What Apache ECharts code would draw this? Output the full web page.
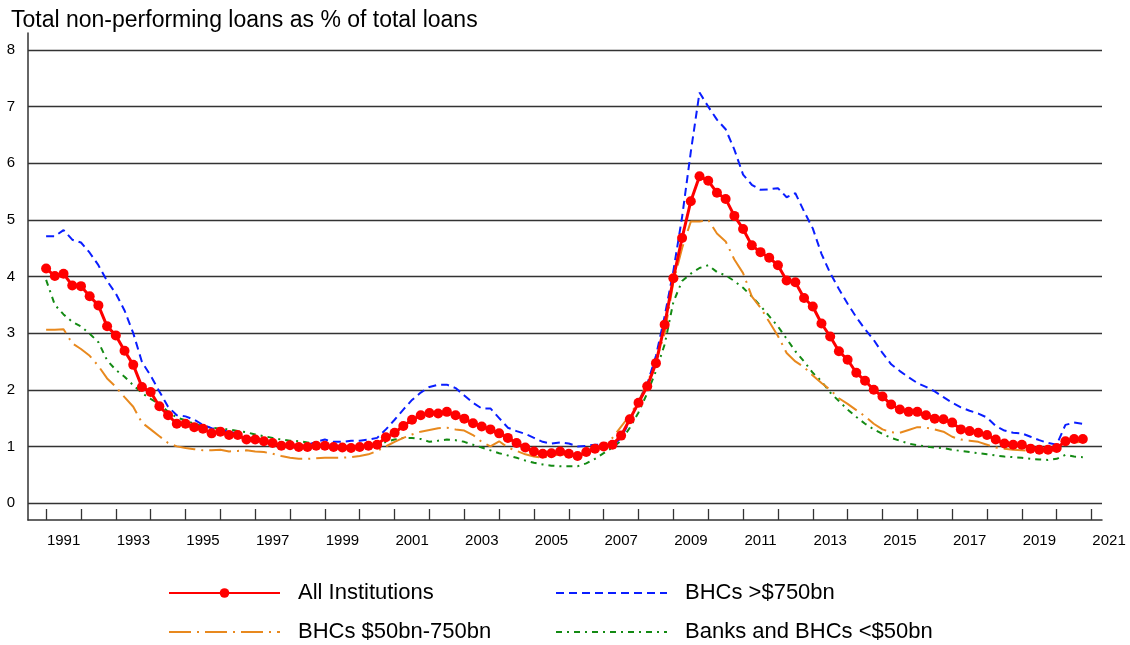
<!DOCTYPE html>
<html>
<head>
<meta charset="utf-8">
<script src="https://cdn.jsdelivr.net/npm/echarts@6/dist/echarts.min.js"></script>
<style>
html, body { margin: 0; padding: 0; background: #fff; }
#chart { width: 1130px; height: 645px; }
</style>
</head>
<body>
<div id="chart"></div>
<script>
// quarterly, 1991 Q1 .. 2020 Q4
const firstYear = 1991

const allInstitutions = [
  4.14, 4.01, 4.05, 3.84, 3.83, 3.65, 3.49, 3.12, 2.96, 2.69,
  2.44, 2.05, 1.96, 1.71, 1.55, 1.40, 1.40, 1.34, 1.31, 1.23,
  1.26, 1.20, 1.20, 1.12, 1.12, 1.09, 1.06, 1.01, 1.02, 0.99,
  0.99, 1.01, 1.01, 0.99, 0.98, 0.97, 0.99, 1.01, 1.03, 1.16,
  1.24, 1.36, 1.47, 1.55, 1.59, 1.58, 1.61, 1.55, 1.49, 1.41,
  1.35, 1.30, 1.23, 1.15, 1.06, 0.98, 0.91, 0.87, 0.88, 0.91,
  0.87, 0.83, 0.90, 0.96, 1.00, 1.03, 1.19, 1.48, 1.77, 2.06,
  2.47, 3.15, 3.97, 4.68, 5.33, 5.77, 5.69, 5.48, 5.37, 5.07,
  4.84, 4.55, 4.43, 4.33, 4.20, 3.93, 3.90, 3.62, 3.47, 3.17,
  2.94, 2.68, 2.53, 2.30, 2.16, 2.00, 1.88, 1.74, 1.65, 1.61,
  1.61, 1.55, 1.49, 1.48, 1.42, 1.30, 1.27, 1.24, 1.20, 1.12,
  1.05, 1.03, 1.03, 0.96, 0.94, 0.94, 0.97, 1.09, 1.13, 1.13
]

const bhcsOver750 = [
  4.71, 4.71, 4.82, 4.65, 4.60, 4.42, 4.20, 3.92, 3.70, 3.40,
  3.00, 2.49, 2.25, 1.97, 1.70, 1.55, 1.53, 1.47, 1.38, 1.32,
  1.29, 1.26, 1.22, 1.17, 1.12, 1.07, 1.05, 1.03, 1.01, 1.01,
  1.03, 1.08, 1.12, 1.08, 1.08, 1.10, 1.10, 1.12, 1.15, 1.30,
  1.47, 1.65, 1.82, 1.95, 2.05, 2.09, 2.09, 2.03, 1.90, 1.77,
  1.67, 1.67, 1.50, 1.33, 1.27, 1.22, 1.15, 1.08, 1.05, 1.07,
  1.05, 1.00, 1.01, 1.03, 1.03, 1.01, 1.15, 1.45, 1.78, 2.10,
  2.60, 3.30, 4.10, 5.05, 6.20, 7.25, 7.00, 6.77, 6.60, 6.24,
  5.80, 5.62, 5.53, 5.54, 5.56, 5.40, 5.47, 5.15, 4.85, 4.40,
  4.06, 3.78, 3.52, 3.28, 3.07, 2.88, 2.65, 2.45, 2.33, 2.22,
  2.12, 2.05, 1.97, 1.87, 1.77, 1.69, 1.63, 1.58, 1.51, 1.36,
  1.28, 1.24, 1.23, 1.17, 1.11, 1.06, 1.03, 1.38, 1.42, 1.40
]

const bhcs50to750 = [
  3.06, 3.06, 3.07, 2.82, 2.72, 2.60, 2.42, 2.20, 2.05, 1.87,
  1.70, 1.42, 1.30, 1.18, 1.06, 1.00, 0.97, 0.95, 0.93, 0.93,
  0.94, 0.91, 0.92, 0.93, 0.91, 0.90, 0.87, 0.83, 0.80, 0.78,
  0.78, 0.79, 0.80, 0.80, 0.80, 0.81, 0.83, 0.86, 0.92, 1.00,
  1.08, 1.15, 1.21, 1.26, 1.29, 1.32, 1.33, 1.30, 1.28, 1.20,
  1.08, 1.00, 1.09, 0.98, 0.92, 0.86, 0.82, 0.80, 0.83, 0.86,
  0.85, 0.82, 0.88, 0.95, 1.02, 1.15, 1.35, 1.55, 1.80, 2.12,
  2.50, 3.00, 3.90, 4.50, 4.97, 4.97, 5.00, 4.76, 4.62, 4.30,
  4.06, 3.65, 3.45, 3.20, 2.95, 2.65, 2.50, 2.40, 2.25, 2.12,
  2.00, 1.85, 1.75, 1.64, 1.53, 1.40, 1.30, 1.25, 1.24, 1.29,
  1.34, 1.33, 1.30, 1.26, 1.17, 1.12, 1.10, 1.08, 1.03, 0.98,
  0.96, 0.94, 0.93, 0.92, 0.91, 0.91, 0.95, 1.02, 1.07, 1.08
]

const banksUnder50 = [
  3.94, 3.50, 3.33, 3.20, 3.12, 2.99, 2.84, 2.52, 2.35, 2.23,
  2.08, 1.94, 1.84, 1.75, 1.61, 1.51, 1.46, 1.40, 1.36, 1.33,
  1.31, 1.30, 1.27, 1.25, 1.21, 1.18, 1.15, 1.12, 1.10, 1.09,
  1.07, 1.05, 1.02, 0.99, 0.96, 0.94, 0.95, 0.97, 1.00, 1.08,
  1.12, 1.15, 1.15, 1.13, 1.08, 1.10, 1.12, 1.11, 1.08, 1.03,
  0.98, 0.93, 0.88, 0.84, 0.80, 0.75, 0.71, 0.68, 0.66, 0.65,
  0.65, 0.65, 0.70, 0.78, 0.88, 0.98, 1.10, 1.33, 1.60, 1.94,
  2.33, 2.80, 3.55, 3.92, 4.05, 4.15, 4.20, 4.08, 4.02, 3.92,
  3.80, 3.65, 3.48, 3.30, 3.12, 2.90, 2.68, 2.50, 2.30, 2.15,
  1.95, 1.80, 1.65, 1.52, 1.40, 1.30, 1.22, 1.15, 1.10, 1.05,
  1.02, 1.00, 0.98, 0.97, 0.94, 0.92, 0.90, 0.88, 0.86, 0.84,
  0.82, 0.81, 0.80, 0.78, 0.77, 0.76, 0.78, 0.85, 0.82, 0.81
]

const yTicks = [0, 1, 2, 3, 4, 5, 6, 7, 8]
const xTicks = []
for (let y = 1991; y <= 2021; y++) xTicks.push(y)
const xLabels = xTicks.filter(y => y % 2 === 1)

const font = 'Liberation Sans, Arial, sans-serif'
const axisColor = '#333'

function toPoints(values) {
  return values.map((v, i) => [firstYear + i / 4, v])
}

const legendBase = {
  itemWidth: 111,
  itemHeight: 12,
  padding: 0,
  textStyle: { fontSize: 22, color: '#000', fontFamily: font, padding: [0, 0, 0, 13] }
}

// lines without markers: hide the legend marker, keep the line
function plainItem(name) {
  return { name: name, itemStyle: { opacity: 0 } }
}

const option = {
  animation: false,
  textStyle: { fontFamily: font },
  title: {
    text: 'Total non-performing loans as % of total loans',
    left: 6,
    top: 4,
    textStyle: { fontSize: 23, fontWeight: 'normal', color: '#000', fontFamily: font }
  },
  grid: { left: 28, right: 28, top: 33, bottom: 125 },
  legend: [
    Object.assign({ left: 168, top: 582, data: ['All Institutions'] }, legendBase),
    Object.assign({ left: 555, top: 582, data: [plainItem('BHCs >$750bn')] }, legendBase),
    Object.assign({ left: 168, top: 621, data: [plainItem('BHCs $50bn-750bn')] }, legendBase),
    Object.assign({ left: 555, top: 621, data: [plainItem('Banks and BHCs <$50bn')] }, legendBase)
  ],
  xAxis: {
    type: 'value',
    min: 1990.48,
    max: 2021.3,
    axisLine: { show: true, onZero: false, lineStyle: { color: axisColor, width: 1.5 } },
    axisTick: { show: true, inside: true, length: 11, customValues: xTicks, lineStyle: { color: axisColor, width: 1.3 } },
    axisLabel: {
      customValues: xLabels,
      formatter: v => String(v),
      padding: [0, 0, 0, 35],
      fontSize: 15,
      color: '#000',
      margin: 13
    },
    splitLine: { show: false }
  },
  yAxis: {
    type: 'value',
    min: -0.3,
    max: 8.3,
    axisLine: { show: true, lineStyle: { color: axisColor, width: 1.5 } },
    axisTick: { show: false },
    axisLabel: { customValues: yTicks, fontSize: 15, color: '#000', margin: 13 },
    splitLine: { show: false }
  },
  series: [
    {
      // horizontal grid lines
      name: 'gridlines',
      type: 'line',
      data: [],
      silent: true,
      markLine: {
        silent: true,
        z: 1,
        symbol: 'none',
        label: { show: false },
        lineStyle: { color: axisColor, width: 1.3, type: 'solid' },
        data: yTicks.map(v => ({ yAxis: v }))
      }
    },
    {
      name: 'Banks and BHCs <$50bn',
      type: 'line',
      data: toPoints(banksUnder50),
      showSymbol: false,
      symbol: 'none',
      color: '#138a13',
      lineStyle: { color: '#138a13', width: 2, type: [6, 5, 2, 5] },
      z: 3
    },
    {
      name: 'BHCs $50bn-750bn',
      type: 'line',
      data: toPoints(bhcs50to750),
      showSymbol: false,
      symbol: 'none',
      color: '#e8891e',
      lineStyle: { color: '#e8891e', width: 2, type: [22, 6, 2, 6] },
      z: 4
    },
    {
      name: 'BHCs >$750bn',
      type: 'line',
      data: toPoints(bhcsOver750),
      showSymbol: false,
      symbol: 'none',
      color: '#0a1eff',
      lineStyle: { color: '#0a1eff', width: 2, type: [8, 5] },
      z: 5
    },
    {
      name: 'All Institutions',
      type: 'line',
      data: toPoints(allInstitutions),
      symbol: 'circle',
      symbolSize: 10,
      showAllSymbol: true,
      color: '#ff0000',
      itemStyle: { color: '#ff0000' },
      lineStyle: { color: '#ff0000', width: 3 },
      z: 6
    }
  ]
}

const chart = echarts.init(document.getElementById('chart'))
chart.setOption(option)
</script>
</body>
</html>
